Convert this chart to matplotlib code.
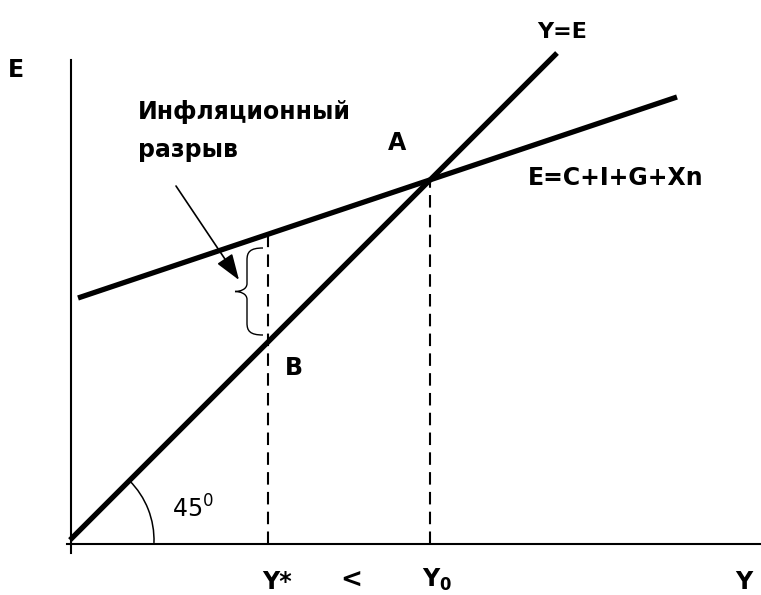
import numpy as np
import matplotlib
matplotlib.use("Agg")
import matplotlib.pyplot as plt
from matplotlib.patches import Arc, PathPatch
from matplotlib.path import Path

########## DOC DATA (diagram units, origin = start of the 45 deg line) ##########
ye_x = [0, 487]          # Y=E line
ye_y = [0, 487]
agg_x = [8, 607]         # E=C+I+G+Xn line
agg_y = [242, 443]
y_star = 198             # Y*
e_at_ystar = 306         # E at Y*
b_at_ystar = 198         # point B
y0 = 360                 # Y0, point A
e_at_y0 = 360
########################################

plt.rcParams['font.family'] = ['DejaVu Sans']

fig = plt.figure(figsize=(7.61, 5.95), dpi=100)
ax = fig.add_axes([0, 0, 1, 1])
ax.set_xlim(-70, 691)
ax.set_ylim(-55, 540)

# axes of the diagram
for s in ['top', 'right']:
    ax.spines[s].set_visible(False)
ax.spines['left'].set_position(('data', 1))
ax.spines['bottom'].set_position(('data', -3.5))
ax.spines['left'].set_bounds(-13, 480)
ax.spines['bottom'].set_bounds(-3, 700)
ax.spines['left'].set_linewidth(1.5)
ax.spines['bottom'].set_linewidth(1.5)
ax.set_xticks([])
ax.set_yticks([])

# main lines
ax.plot(ye_x, ye_y, color='black', lw=3.8, solid_capstyle='butt')
ax.plot(agg_x, agg_y, color='black', lw=3.8, solid_capstyle='butt')

# dashed verticals
ax.plot([y_star, y_star], [-3.5, e_at_ystar + 4], color='black', lw=1.5, dashes=[6, 3.5])
ax.plot([y0, y0], [-3.5, e_at_y0], color='black', lw=1.5, dashes=[6, 3.5])

# brace for the gap
xt, xb, xc = y_star - 5, y_star - 21, y_star - 33
yt, yb = e_at_ystar - 14, b_at_ystar + 7
ym = (yt + yb) / 2
verts = [(xt, yt), (xb + 3, yt), (xb, yt - 4), (xb, yt - 12),
         (xb, ym + 8),
         (xb, ym + 2), (xc + 5, ym), (xc, ym),
         (xc + 5, ym), (xb, ym - 2), (xb, ym - 8),
         (xb, yb + 12),
         (xb, yb + 4), (xb + 3, yb), (xt, yb)]
codes = [Path.MOVETO, Path.CURVE4, Path.CURVE4, Path.CURVE4,
         Path.LINETO,
         Path.CURVE4, Path.CURVE4, Path.CURVE4,
         Path.CURVE4, Path.CURVE4, Path.CURVE4,
         Path.LINETO,
         Path.CURVE4, Path.CURVE4, Path.CURVE4]
ax.add_patch(PathPatch(Path(verts, codes), facecolor='none', edgecolor='black', lw=1.0))

# arrow from the label to the brace
ax.annotate('', xy=(169, 260), xytext=(106, 354),
            arrowprops=dict(arrowstyle='-|>,head_length=0.8,head_width=0.28',
                            mutation_scale=20, color='black', lw=1.2,
                            shrinkA=0, shrinkB=0))

# 45 degree arc
ax.add_patch(Arc((0, 0), 168, 168, theta1=-2, theta2=45, color='black', lw=1.1))

# labels
bold = dict(fontweight='bold', color='black')
ax.text(-62, 463, 'E', fontsize=17, **bold)
ax.text(68, 421, 'Инфляционный', fontsize=17, **bold)
ax.text(68, 383, 'разрыв', fontsize=17, **bold)
ax.text(318, 390, 'A', fontsize=17, **bold)
ax.text(467, 502, 'Y=E', fontsize=16, **bold)
ax.text(458, 355, 'E=C+I+G+Xn', fontsize=17, **bold)
ax.text(215, 165, 'B', fontsize=17, **bold)
ax.text(102, 22, r'45$^{\mathrm{0}}$', fontsize=17, color='black')
ax.text(192, -54, 'Y*', fontsize=17, va='bottom', **bold)
ax.text(270, -47, '<', fontsize=19, **bold)
ax.text(352, -47, r'$\mathbf{Y_0}$', fontsize=17, color='black')
ax.text(665, -54, 'Y', fontsize=17, va='bottom', **bold)

fig.savefig("out.png", dpi=100)
